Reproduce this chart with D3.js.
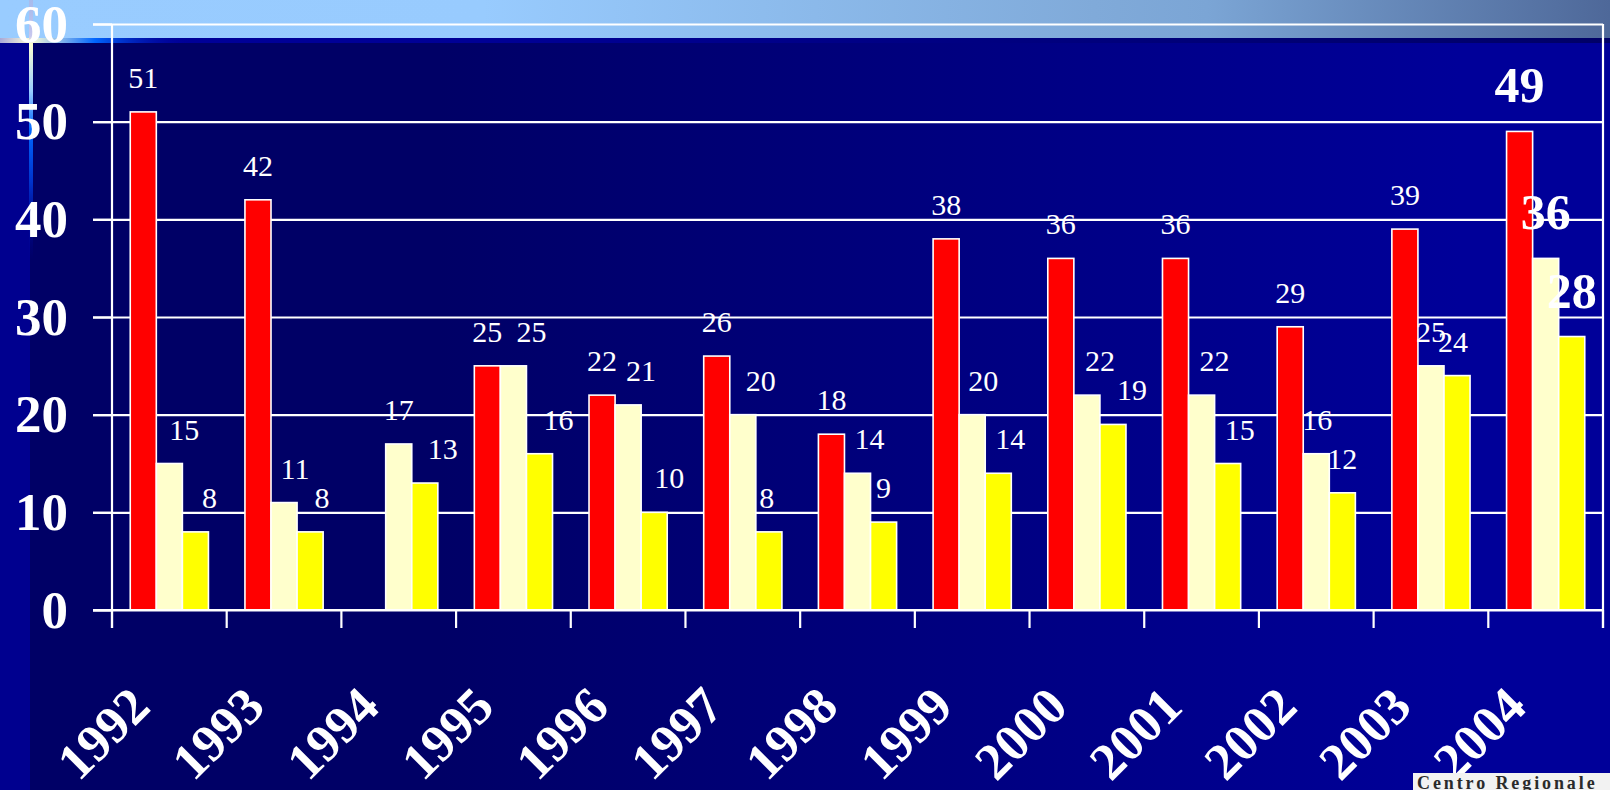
<!DOCTYPE html>
<html>
<head>
<meta charset="utf-8">
<script src="https://cdn.jsdelivr.net/npm/d3@7"></script>
<style>
  html, body { margin: 0; padding: 0; background: #000066; }
  svg { display: block; }
</style>
</head>
<body>
<svg id="chart" width="1610" height="790"></svg>
<script>
// ---------------- data ----------------
const years   = ["1992","1993","1994","1995","1996","1997","1998","1999","2000","2001","2002","2003","2004"];
const seriesNames = ["red", "cream", "yellow"];
const redValues    = [51, 42, null, 25, 22, 26, 18, 38, 36, 36, 29, 39, 49];
const creamValues  = [15, 11, 17, 25, 21, 20, 14, 20, 22, 22, 16, 25, 36];
const yellowValues = [ 8,  8, 13, 16, 10,  8,  9, 14, 19, 15, 12, 24, 28];
const yTicks = [0, 10, 20, 30, 40, 50, 60];
const footerText = "Centro Regionale";

// ---------------- layout / style ----------------
const W = 1610, H = 790;
const plot = { left: 112, right: 1603, top: 24, bottom: 610, gridLeft: 93 };
const colors = { red: "#ff0000", cream: "#ffffcc", yellow: "#ffff00" };
// horizontal label nudges (PowerPoint-style placement), per series per year
const labelNudge = {
  red:    [0,0,0,0,0,0,0,0,0,0,0,0,0],
  cream:  [15,11,0,18,13,18,12,11,13,13,1,0,0],
  yellow: [14,12,18,19,15,-2,0,12,19,12,0,-4,0]
};
const serif = "'Liberation Serif', 'Times New Roman', serif";

const svg = d3.select("#chart");
const defs = svg.append("defs");

function linGrad(id, x1, x2, y1, y2, stops) {
  const g = defs.append("linearGradient").attr("id", id)
    .attr("gradientUnits", "userSpaceOnUse")
    .attr("x1", x1).attr("x2", x2).attr("y1", y1).attr("y2", y2);
  stops.forEach(s => g.append("stop").attr("offset", s[0]).attr("stop-color", s[1]).attr("stop-opacity", s[2] === undefined ? 1 : s[2]));
}

linGrad("bgGrad", 440, 1460, 0, 0, [[0, "#000066"], [1, "#000099"]]);
linGrad("bandGrad", 0, W, 0, 0, [[0, "#99ccff"], [0.3, "#98cbfe"], [0.68, "#80aad9"], [0.75, "#7ba5d5"], [1, "#4e6899"]]);
linGrad("stripGrad", 0, W, 0, 0, [[0, "#000099"], [0.3, "#000096"], [1, "#000066"]]);
linGrad("hDeco", 0, 190, 0, 0, [[0, "#a8a8d8"], [0.16, "#ffffd8"], [0.5, "#0066ff"], [1, "#000099", 0]]);
linGrad("vDeco", 0, 0, 0, 260, [[0, "#b0b0e0", 0.6], [0.14, "#c8c8ee"], [0.17, "#ffffd0"], [0.35, "#99ccff"], [0.5, "#0066ff"], [0.7, "#0033cc"], [1, "#000099", 0]]);

// background
svg.append("rect").attr("x", 0).attr("y", 0).attr("width", W).attr("height", H).attr("fill", "url(#bgGrad)");
svg.append("rect").attr("x", 0).attr("y", 38).attr("width", 30).attr("height", H - 38).attr("fill", "#00008f");
svg.append("rect").attr("x", 0).attr("y", 0).attr("width", W).attr("height", 38).attr("fill", "url(#bandGrad)");
svg.append("rect").attr("x", 0).attr("y", 38).attr("width", W).attr("height", 5).attr("fill", "url(#stripGrad)");
svg.append("rect").attr("x", 0).attr("y", 38).attr("width", 190).attr("height", 5).attr("fill", "url(#hDeco)");
svg.append("rect").attr("x", 29).attr("y", 0).attr("width", 4).attr("height", 260).attr("fill", "url(#vDeco)");

// scales
const x = d3.scaleBand().domain(years).range([plot.left, plot.right]).padding(0);
const inner = d3.scaleBand().domain(seriesNames).range([0, x.bandwidth()]).paddingInner(0).paddingOuter(0.7);
const y = d3.scaleLinear().domain([0, 60]).range([plot.bottom, plot.top]);

// gridlines
const grid = svg.append("g").attr("transform", `translate(${plot.right},0)`)
  .call(d3.axisLeft(y).tickValues(yTicks).tickSize(plot.right - plot.gridLeft).tickFormat(""));
grid.select(".domain").remove();
grid.selectAll("line").attr("stroke", "#ffffff").attr("stroke-width", 2.2);

// y-axis labels + ticks
const yAxis = svg.append("g").attr("transform", `translate(${plot.left},0)`)
  .call(d3.axisLeft(y).tickValues(yTicks).tickSize(plot.left - plot.gridLeft).tickPadding(25));
yAxis.select(".domain").remove();
yAxis.selectAll("line").attr("stroke", "#ffffff").attr("stroke-width", 2.2);
yAxis.selectAll("text")
  .attr("fill", "#ffffff").attr("dy", "17px")
  .style("font-family", serif).style("font-weight", "bold").style("font-size", "53px");

// vertical frame lines
svg.append("line").attr("x1", plot.left).attr("x2", plot.left).attr("y1", plot.top).attr("y2", plot.bottom + 18)
  .attr("stroke", "#ffffff").attr("stroke-width", 2.2);
svg.append("line").attr("x1", plot.right).attr("x2", plot.right).attr("y1", plot.top).attr("y2", plot.bottom + 18)
  .attr("stroke", "#ffffff").attr("stroke-width", 2.2);

// bars
const seriesData = { red: redValues, cream: creamValues, yellow: yellowValues };
const barG = svg.append("g");
years.forEach((yr, i) => {
  seriesNames.forEach(s => {
    const v = seriesData[s][i];
    if (v === null || v === undefined) return;
    barG.append("rect")
      .attr("x", x(yr) + inner(s))
      .attr("y", y(v))
      .attr("width", inner.bandwidth())
      .attr("height", y(0) - y(v))
      .attr("fill", colors[s])
      .attr("stroke", "#ffffff").attr("stroke-width", 1.6);
  });
});

// x axis line and boundary ticks
svg.append("line").attr("x1", plot.gridLeft).attr("x2", plot.right).attr("y1", plot.bottom).attr("y2", plot.bottom)
  .attr("stroke", "#ffffff").attr("stroke-width", 2.2);
const bounds = years.map(d => x(d)).concat([x.range()[1]]);
svg.append("g").selectAll("line").data(bounds).join("line")
  .attr("x1", d => d).attr("x2", d => d).attr("y1", plot.bottom).attr("y2", plot.bottom + 18)
  .attr("stroke", "#ffffff").attr("stroke-width", 2.2);

// x-axis labels (rotated)
const xAxis = svg.append("g").attr("transform", `translate(0,${plot.bottom})`)
  .call(d3.axisBottom(x).tickSize(0));
xAxis.select(".domain").remove();
xAxis.selectAll("text")
  .attr("x", 0).attr("y", 0).attr("dy", 0)
  .attr("text-anchor", "end")
  .attr("transform", "translate(-17,99) rotate(-45)")
  .attr("fill", "#ffffff")
  .style("font-family", serif).style("font-weight", "bold").style("font-size", "52px");

// value labels
const labG = svg.append("g");
const last = years.length - 1;
years.forEach((yr, i) => {
  seriesNames.forEach(s => {
    const v = seriesData[s][i];
    if (v === null || v === undefined) return;
    const big = i === last;
    labG.append("text")
      .attr("x", x(yr) + inner(s) + inner.bandwidth() / 2 + labelNudge[s][i])
      .attr("y", y(v) - (big ? 29 : 24))
      .attr("text-anchor", "middle")
      .attr("fill", "#ffffff")
      .style("font-family", serif)
      .style("font-weight", big ? "bold" : "normal")
      .style("font-size", big ? "50px" : "30px")
      .text(v);
  });
});

// footer box
svg.append("rect").attr("x", 1413).attr("y", 773).attr("width", W - 1413).attr("height", H - 773).attr("fill", "#f2f2f2");
svg.append("text").attr("x", 1417).attr("y", 789)
  .attr("fill", "#2a2a2a")
  .style("font-family", serif).style("font-weight", "bold").style("font-size", "18px")
  .style("letter-spacing", "2.9px")
  .text(footerText);
</script>
</body>
</html>
